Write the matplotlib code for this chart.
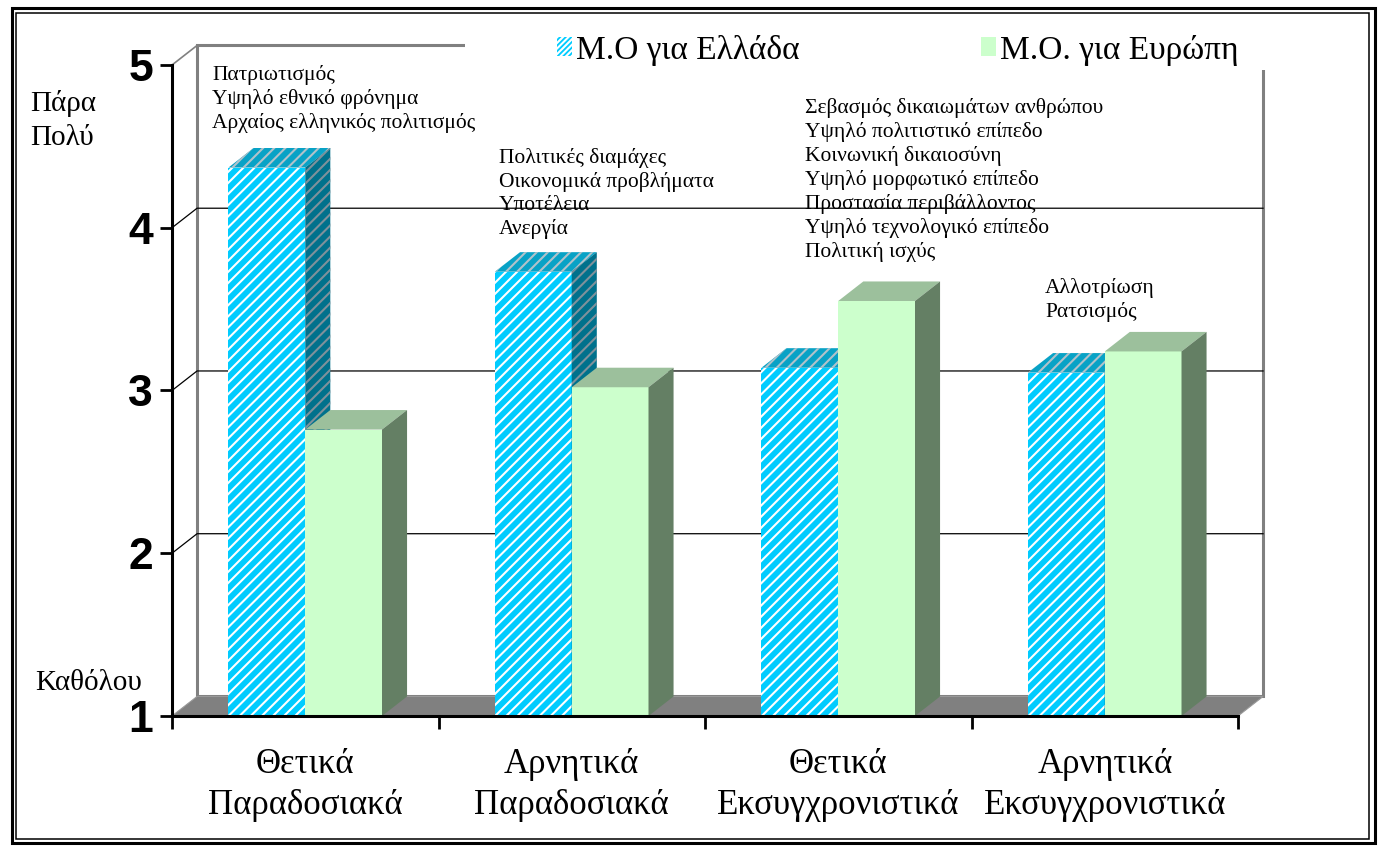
import matplotlib
matplotlib.use('Agg')
import matplotlib.pyplot as plt
from matplotlib.patches import Polygon, Rectangle, Patch
import numpy as np

# data (scale 1 = "Καθόλου" ... 5 = "Πάρα Πολύ")
categories = ['Θετικά\nΠαραδοσιακά', 'Αρνητικά\nΠαραδοσιακά',
              'Θετικά\nΕκσυγχρονιστικά', 'Αρνητικά\nΕκσυγχρονιστικά']
mo_greece = [4.37, 3.73, 3.14, 3.11]
mo_europe = [2.76, 3.02, 3.55, 3.24]
series_names = ['Μ.Ο για Ελλάδα', 'Μ.Ο. για Ευρώπη']
y_ticks = [1, 2, 3, 4, 5]
notes = [
    ['Πατριωτισμός', 'Υψηλό εθνικό φρόνημα', 'Αρχαίος ελληνικός πολιτισμός'],
    ['Πολιτικές διαμάχες', 'Οικονομικά προβλήματα', 'Υποτέλεια', 'Ανεργία'],
    ['Σεβασμός δικαιωμάτων ανθρώπου', 'Υψηλό πολιτιστικό επίπεδο',
     'Κοινωνική δικαιοσύνη', 'Υψηλό μορφωτικό επίπεδο',
     'Προστασία περιβάλλοντος', 'Υψηλό τεχνολογικό επίπεδο', 'Πολιτική ισχύς'],
    ['Αλλοτρίωση', 'Ρατσισμός'],
]

# layout
note_x = [-0.35, 0.727, 1.875, 2.776]
note_top = [5.0, 4.49, 4.80, 3.69]
SERIF = 'Liberation Serif'
SANS = 'Liberation Sans'
W, H = 1383, 846
BW = 0.288          # bar width
DX, DY = 0.094, 0.12  # 3d depth offset (data units)

plt.rcParams['hatch.linewidth'] = 1.5

fig = plt.figure(figsize=(W / 100, H / 100), dpi=100, facecolor='white')
ax = fig.add_axes([172 / W, (H - 716) / H, 1066 / W, 651 / H])
ax.set_xlim(-0.5, len(categories) - 0.5)
ax.set_ylim(y_ticks[0], y_ticks[-1])

x0, x1 = ax.get_xlim()
y0, y1 = ax.get_ylim()

# back wall
wall = Rectangle((x0 + DX, y0 + DY), x1 - x0, y1 - y0, facecolor='white',
                 edgecolor='#808080', lw=2.2, zorder=0.5, clip_on=False)
ax.add_patch(wall)
ax.plot([x0, x0 + DX], [y1, y1 + DY], color='#808080', lw=1.2, zorder=0.6, clip_on=False)

# gridlines (side diagonal + back wall)
for v in y_ticks[1:-1]:
    ax.plot([x0, x0 + DX, x1 + DX], [v, v + DY, v + DY], color='black',
            lw=0.9, zorder=0.6, clip_on=False)

# floor
floor = Polygon([(x0, y0), (x1, y0), (x1 + DX, y0 + DY), (x0 + DX, y0 + DY)],
                facecolor='#808080', edgecolor='#999999', lw=0.8, zorder=0.7, clip_on=False)
ax.add_patch(floor)


def bar3d(ax, left, height, front, top, side, hatch=None, hatch_cols=None, z=1):
    r = left + BW
    faces = [
        ([(left, y0), (r, y0), (r, height), (left, height)], front),
        ([(left, height), (r, height), (r + DX, height + DY), (left + DX, height + DY)], top),
        ([(r, y0), (r + DX, y0 + DY), (r + DX, height + DY), (r, height)], side),
    ]
    for k, (pts, col) in enumerate(faces):
        if hatch:
            p = Polygon(pts, facecolor=col, edgecolor=hatch_cols[k], lw=0,
                        hatch=hatch, zorder=z, clip_on=False)
        else:
            p = Polygon(pts, facecolor=col, edgecolor='none', lw=0, zorder=z, clip_on=False)
        ax.add_patch(p)


for i in range(len(categories)):
    bar3d(ax, i - BW, mo_greece[i], '#00CCFF', '#08A2C6', '#00718C',
          hatch='///', hatch_cols=['white', '#B2C2CA', '#7F919B'], z=1 + i * 0.1)
    bar3d(ax, i, mo_europe[i], '#CCFFCC', '#9CC09C', '#647F64', z=1.05 + i * 0.1)

# notes above the bars
for i, lines in enumerate(notes):
    ax.text(note_x[i], note_top[i], '\n'.join(lines), ha='left', va='top',
            fontsize=15.5, family=SERIF, linespacing=1.27, zorder=3, clip_on=False)

# axes styling
for s in ['top', 'right']:
    ax.spines[s].set_visible(False)
for s in ['left', 'bottom']:
    ax.spines[s].set_linewidth(2.2)
    ax.spines[s].set_zorder(5)

ax.set_yticks(y_ticks)
ax.set_yticklabels([str(t) for t in y_ticks], fontsize=32, fontweight='bold', family=SANS)
ax.tick_params(axis='y', length=8.6, width=2, pad=5)

ax.set_xticks(np.arange(len(categories) + 1) - 0.5)
ax.set_xticklabels([])
ax.tick_params(axis='x', which='major', length=9, width=2)
ax.set_xticks(np.arange(len(categories)), minor=True)
ax.set_xticklabels(categories, minor=True, fontsize=25, family=SERIF, linespacing=1.32)
ax.tick_params(axis='x', which='minor', length=0, pad=23)

# scale labels
ax.text(-1.033, 4.66, 'Πάρα\nΠολύ', ha='left', va='center', fontsize=21,
        family=SERIF, linespacing=1.38, clip_on=False)
ax.text(-1.014, 1.203, 'Καθόλου', ha='left', va='center', fontsize=21,
        family=SERIF, clip_on=False)

# legend (white box hides the top of the wall, like the original)
ax.add_patch(Rectangle(((465 - 172) / 1066, (716 - 70) / 651), (1270 - 465) / 1066, 50 / 651,
                       transform=ax.transAxes, facecolor='white', edgecolor='none',
                       zorder=4, clip_on=False))
handles = [Patch(facecolor='#00CCFF', edgecolor='white', hatch='//////', lw=0),
           Patch(facecolor='#CCFFCC', edgecolor='none', lw=0)]
leg = ax.legend(handles, series_names, loc='center left',
                bbox_to_anchor=((557 - 172) / 1066, (716 - 50) / 651), ncol=2,
                frameon=False, prop=dict(family=SERIF, size=24), handlelength=0.45,
                handleheight=0.5, handletextpad=0.12, columnspacing=5.45,
                borderpad=0, borderaxespad=0)
leg.set_zorder(6)

# double border around the picture
def fig_rect(l, t, r, b, lw):
    fig.add_artist(Rectangle((l / W, 1 - b / H), (r - l) / W, (b - t) / H,
                             transform=fig.transFigure, fill=False,
                             edgecolor='black', lw=lw))

fig_rect(11.5, 8.5, 1374.5, 843, 2.2)
fig_rect(15.5, 13.5, 1368.5, 838.5, 1.1)

fig.savefig('out.png', dpi=100, facecolor='white')
